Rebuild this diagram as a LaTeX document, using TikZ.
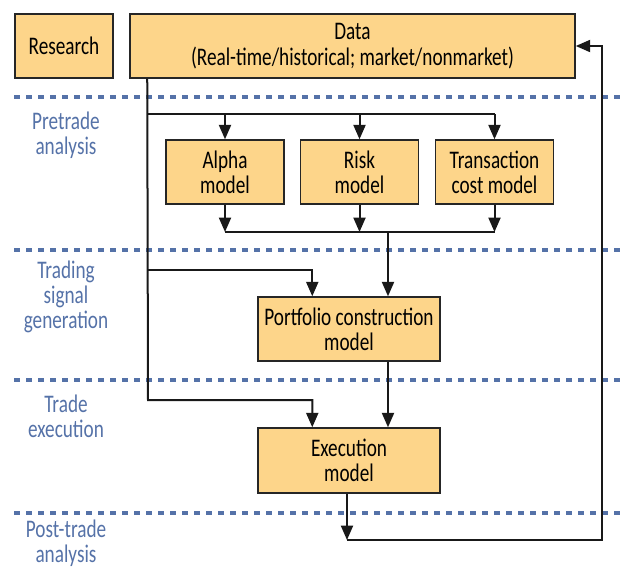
\documentclass[tikz,border=0pt]{standalone}
\usepackage{fontspec}
\setmainfont{Carlito}[FakeStretch=0.76]
\usetikzlibrary{arrows.meta,calc}
\definecolor{boxfill}{HTML}{FDD58A}
\definecolor{phaseblue}{HTML}{5572A8}
\begin{document}
\begin{tikzpicture}[x=0.025cm,y=-0.025cm,>={Triangle[length=0.36cm,width=0.3cm]},
  font=\fontsize{18}{18}\selectfont,
  block/.style={draw=black!85,line width=1pt,fill=boxfill,align=center,inner sep=0pt,minimum height=1.6cm},
  phase/.style={text=phaseblue,align=center},
  sep/.style={phaseblue,line width=0.1cm,dash pattern=on 0.15cm off 0.15cm},
  flow/.style={line width=0.05cm,black!90}]
\useasboundingbox (0,0) rectangle (626,568);
\foreach \y in {97,250,380,513} \draw[sep] (14,\y)--(626,\y);
\node[block,minimum width=2.45cm] (research) at (64,46) {Research};
\node[block,minimum width=11.125cm] (data) at (352.5,46) {Data\\(Real-time/historical; market/nonmarket)};
\node[block,minimum width=2.95cm] (alpha) at (225,172) {Alpha\\model};
\node[block,minimum width=2.95cm] (risk) at (359.5,172) {Risk\\model};
\node[block,minimum width=2.95cm] (trans) at (494.5,172) {Transaction\\cost model};
\node[block,minimum width=4.55cm] (port) at (349,329) {Portfolio construction\\model};
\node[block,minimum width=4.55cm,minimum height=1.625cm] (exe) at (349,460.5) {Execution\\model};
\node[phase] (pre) at (66,135) {Pretrade\\analysis};
\node[phase] (sgn) at (66,297) {Trading\\signal\\generation};
\node[phase] (trd) at (66,416) {Trade\\execution};
\node[phase] (pst) at (66,543) {Post-trade\\analysis};
\coordinate (tap) at ($(data.south west)+(18,0)$);
\coordinate (split) at (148,114);
\coordinate (sig) at (148,270);
\coordinate (low) at (148,400);
\coordinate (merge) at (388,232);
\coordinate (back) at (347,540);
\coordinate (ret) at (602,540);
\draw[flow,->] (tap) -- (low) -| ($(exe.north west)+(55,0)$);
\draw[flow] (split) -- (split -| trans.north);
\foreach \m in {alpha,risk,trans} \draw[flow,->] (split -| \m.north) -- (\m.north);
\foreach \m in {alpha,risk,trans} \draw[flow,->] (\m.south) -- (\m.south |- merge);
\draw[flow] (merge -| alpha.south) -- (merge -| trans.south);
\draw[flow,->] (merge) -- (merge |- port.north);
\draw[flow,->] (sig) -| ($(port.north west)+(55,0)$);
\draw[flow,->] (port.south -| merge) -- (exe.north -| merge);
\draw[flow,->] (exe.south -| back) -- (back);
\draw[flow,->] (back) -- (ret) |- (data.east);
\end{tikzpicture}
\end{document}
